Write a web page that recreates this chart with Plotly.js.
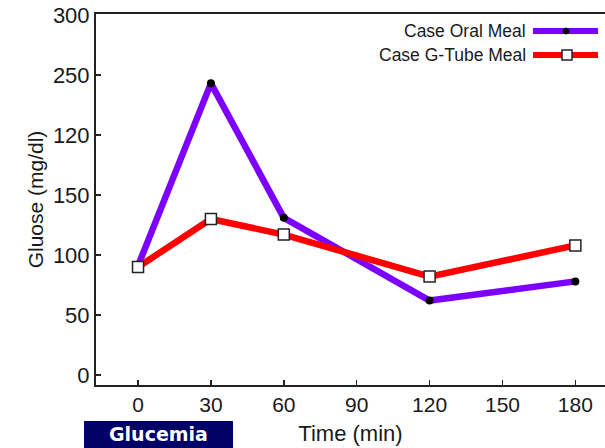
<!DOCTYPE html>
<html>
<head>
<meta charset="utf-8">
<script src="https://cdn.plot.ly/plotly-3.0.1.min.js"></script>
<style>html,body{margin:0;padding:0;background:#fff;}#chart{width:605px;height:448px;}</style>
</head>
<body>
<div id="chart"></div>
<script>
// ---- data ----
const timeMin = [0, 30, 60, 120, 180];
const oralMeal = [91, 243, 131, 62, 78];
const gTubeMeal = [90, 130, 117, 82, 108];
const seriesNames = ["Case Oral Meal", "Case G-Tube Meal"];
const xTickVals = [0, 30, 60, 90, 120, 150, 180];
const yTickVals = [0, 50, 100, 150, 200, 250, 300];
const yTickText = ["0", "50", "100", "150", "120", "250", "300"];
const boxLabel = "Glucemia";

// ---- layout helpers (pixel -> paper) ----
const W = 605, H = 448;
const M = {l: 96, r: 0, t: 14, b: 63};
const PW = W - M.l - M.r, PH = H - M.t - M.b;
const px = x => (x - M.l) / PW;
const py = y => (H - M.b - y) / PH;

const PURPLE = "#7b00ff", RED = "#ff0000";
const FONT = "Liberation Sans, Arial, sans-serif";

const traces = [
  {x: timeMin, y: oralMeal, name: seriesNames[0], type: "scatter", mode: "lines+markers",
   line: {color: PURPLE, width: 6.5},
   marker: {symbol: "circle", size: 8, color: "#000"}, cliponaxis: false},
  {x: timeMin, y: gTubeMeal, name: seriesNames[1], type: "scatter", mode: "lines+markers",
   line: {color: RED, width: 6.5},
   marker: {symbol: "square", size: 11, color: "#fff", line: {color: "#222", width: 1.5}}, cliponaxis: false}
];

const shapes = [
  // legend samples
  {type: "line", xref: "paper", yref: "paper", x0: px(533), x1: px(598), y0: py(31), y1: py(31),
   line: {color: PURPLE, width: 6}},
  {type: "circle", xref: "paper", yref: "paper", x0: px(563), x1: px(569), y0: py(34), y1: py(28),
   fillcolor: "#000", line: {color: "#000", width: 1}},
  {type: "line", xref: "paper", yref: "paper", x0: px(533), x1: px(598), y0: py(55), y1: py(55),
   line: {color: RED, width: 6}},
  {type: "rect", xref: "paper", yref: "paper", x0: px(562), x1: px(572), y0: py(60), y1: py(50),
   fillcolor: "#fff", line: {color: "#222", width: 1.5}},
  // Glucemia box
  {type: "rect", xref: "paper", yref: "paper", x0: px(84), x1: px(233), y0: py(421), y1: py(470),
   fillcolor: "#000066", line: {width: 0}, layer: "above"}
];

const annotations = [
  {xref: "paper", yref: "paper", x: px(528), y: py(31), xanchor: "right", yanchor: "middle",
   text: seriesNames[0], showarrow: false, font: {family: FONT, size: 17.5, color: "#1a1a1a"}},
  {xref: "paper", yref: "paper", x: px(528), y: py(55), xanchor: "right", yanchor: "middle",
   text: seriesNames[1], showarrow: false, font: {family: FONT, size: 17.5, color: "#1a1a1a"}},
  {xref: "paper", yref: "paper", x: px(158), y: py(447), xanchor: "center", yanchor: "bottom",
   text: "<b>" + boxLabel + "</b>", showarrow: false,
   font: {family: "DejaVu Sans, sans-serif", size: 19, color: "#fff"}}
];

const layout = {
  width: W, height: H,
  margin: M,
  paper_bgcolor: "#fff", plot_bgcolor: "#fff",
  showlegend: false,
  font: {family: FONT, color: "#1a1a1a"},
  xaxis: {
    range: [-17.3, 192.2], tickvals: xTickVals, ticks: "inside", ticklen: 5, tickwidth: 1.5,
    tickcolor: "#222", showgrid: false, zeroline: false, showline: true, linecolor: "#222",
    linewidth: 2, mirror: true, tickfont: {family: FONT, size: 21, color: "#1a1a1a"},
    title: {text: "Time (min)", font: {family: FONT, size: 22, color: "#1a1a1a"}, standoff: 10}
  },
  yaxis: {
    range: [-8.33, 300.8], tickvals: yTickVals, ticktext: yTickText, ticks: "inside", ticklen: 5,
    tickwidth: 1.5, tickcolor: "#222", showgrid: false, zeroline: false, showline: true,
    linecolor: "#222", linewidth: 2, tickfont: {family: FONT, size: 22, color: "#1a1a1a"},
    title: {text: "Gluose (mg/dl)", font: {family: FONT, size: 21, color: "#1a1a1a"}, standoff: 4}
  },
  shapes: shapes,
  annotations: annotations
};

Plotly.newPlot("chart", traces, layout, {displayModeBar: false, staticPlot: true});
</script>
</body>
</html>
